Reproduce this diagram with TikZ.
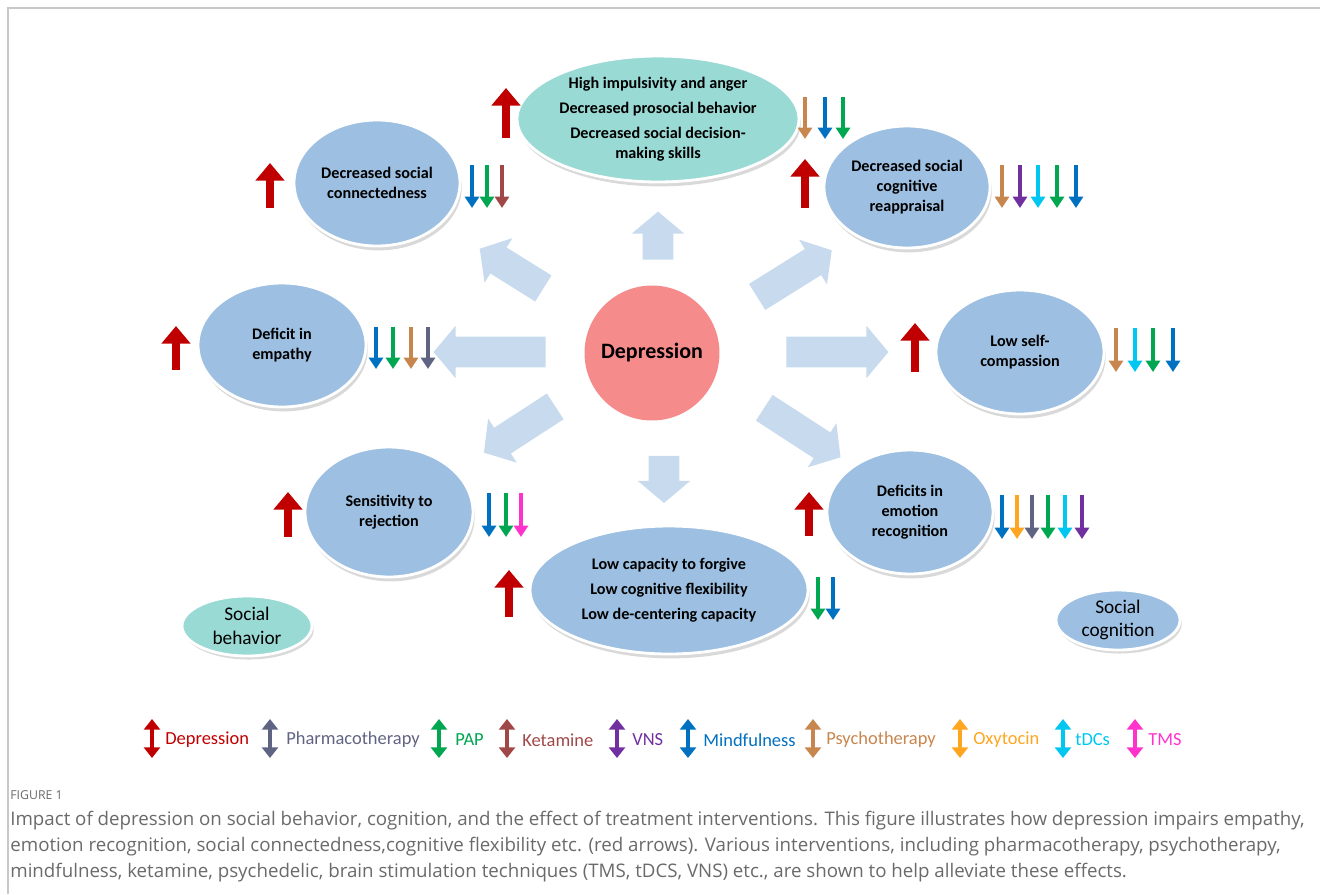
\documentclass[tikz,border=0pt]{standalone}
\usepackage{fontspec}
\setmainfont{Carlito}
\newfontfamily\capfont{Open Sans}
\usepackage{tikz}
\usetikzlibrary{positioning,arrows.meta,shapes.geometric,shapes.arrows,shadows}

\definecolor{deprd}{HTML}{C00000}
\definecolor{pharm}{HTML}{5F6483}
\definecolor{papg}{HTML}{00A650}
\definecolor{ketam}{HTML}{A04848}
\definecolor{vnsp}{HTML}{7030A0}
\definecolor{mindb}{HTML}{0070C0}
\definecolor{psych}{HTML}{C8864F}
\definecolor{oxyt}{HTML}{FFA520}
\definecolor{tdcs}{HTML}{00C6F2}
\definecolor{tmsm}{HTML}{FF33CC}
\definecolor{cogblue}{HTML}{9DBFE1}
\definecolor{behteal}{HTML}{9ADAD5}
\definecolor{depfill}{HTML}{F58B8B}
\definecolor{blkblue}{HTML}{C8DBEE}
\definecolor{capgrey}{HTML}{6A6A6A}
\definecolor{framec}{HTML}{C8C8C8}

\begin{document}
\begin{tikzpicture}[x=0.02cm, y=-0.02cm,
  cogv/.style={ellipse, draw=white, line width=1.6pt, fill=cogblue, inner sep=0pt, align=center,
    font=\fontsize{9.2}{11.3}\selectfont\bfseries,
    drop shadow={shadow xshift=1pt, shadow yshift=-2.5pt, opacity=0.3}},
  behv/.style={cogv, fill=behteal},
  tagv/.style={ellipse, draw=white, line width=1.6pt, inner sep=0pt, align=center,
    font=\fontsize{11}{13.5}\selectfont,
    drop shadow={shadow xshift=1pt, shadow yshift=-2pt, opacity=0.3}},
  depv/.style={circle, fill=depfill, inner sep=0pt, minimum size=2.7cm, font=\fontsize{12.5}{14}\selectfont\bfseries},
  blk/.style={single arrow, fill=blkblue, draw=none, inner xsep=0pt, inner ysep=0.3cm,
    single arrow head extend=0.22cm, single arrow tip angle=100},
  upred/.style={draw=deprd, line width=4pt, -{Triangle[width=16pt,length=10pt]}},
  dn/.style={draw=#1, line width=1.8pt, -{Triangle[width=8pt,length=6.5pt]}},
  legarr/.style={draw=#1, line width=2.2pt, {Triangle[width=9pt,length=6pt]}-{Triangle[width=9pt,length=6pt]}},
  legtxt/.style={anchor=west, inner sep=0pt, text=#1, font=\fontsize{10.5}{12}\selectfont},
  captxt/.style={anchor=base west, inner sep=0pt, text=capgrey, font=\capfont\fontsize{10.65}{12}\selectfont}
]
\useasboundingbox (0,0) rectangle (1320,894);
\draw[framec, line width=0.6pt] (8,894) -- (8,8) -- (1320,8);

\node[depv] (dep) at (652,353) {Depression};

\node[blk, minimum height=0.96cm, rotate=90] (bup) at (658,242) {};
\node[blk, minimum height=0.94cm, rotate=270] (bdown) at (664,473) {};
\node[blk, minimum height=2.24cm, rotate=180] (bleft) at (496,352) {};
\node[blk, minimum height=2.04cm, rotate=0] (bright) at (831,352) {};
\node[blk, minimum height=1.5cm, rotate=148] (bul) at (517,272) {};
\node[blk, minimum height=1.76cm, rotate=32] (bur) at (789,277) {};
\node[blk, minimum height=1.7cm, rotate=213] (bll) at (525,426) {};
\node[blk, minimum height=1.82cm, rotate=-33] (blr) at (797,429) {};

\node[behv, minimum width=5.64cm, minimum height=2.52cm] (impuls) at (658,119)
  {High impulsivity and anger\\[3pt] Decreased prosocial behavior\\[3pt] Decreased social decision-\\making skills};
\node[cogv, minimum width=3.32cm, minimum height=2.52cm] (connect) at (377,183) {Decreased social\\connectedness};
\node[cogv, minimum width=3.32cm, minimum height=2.44cm] (reappr) at (907,187) {Decreased social\\cognitive\\reappraisal};
\node[cogv, minimum width=3.36cm, minimum height=2.48cm] (empathy) at (282,345) {Deficit in\\empathy};
\node[cogv, minimum width=3.36cm, minimum height=2.48cm] (selfcomp) at (1020,352) {Low self-\\compassion};
\node[cogv, minimum width=3.36cm, minimum height=2.6cm] (reject) at (389,512) {Sensitivity to\\rejection};
\node[cogv, minimum width=3.32cm, minimum height=2.48cm] (emotion) at (910,512) {Deficits in\\emotion\\recognition};
\node[cogv, minimum width=5.56cm, minimum height=2.56cm] (forgive) at (669,590)
  {Low capacity to forgive\\[3pt] Low cognitive flexibility\\[3pt] Low de-centering capacity};

\node[tagv, fill=behteal, minimum width=2.6cm, minimum height=1.2cm] (socbeh) at (247,626) {Social\\behavior};
\node[tagv, fill=cogblue, minimum width=2.48cm, minimum height=1.2cm] (soccog) at (1118,620) {Social\\cognition};

\draw[upred] (506,138) -- (506,88);
\draw[upred] (270,208) -- (270,163);
\draw[upred] (805,208) -- (805,159);
\draw[upred] (176,370) -- (176,326);
\draw[upred] (915,372) -- (915,323);
\draw[upred] (288,537) -- (288,492);
\draw[upred] (809,536) -- (809,492);
\draw[upred] (509,617) -- (509,570);

\draw[dn=psych] (805,97) -- (805,139);
\draw[dn=mindb] (825,97) -- (825,139);
\draw[dn=papg] (843,97) -- (843,139);

\draw[dn=mindb] (472,165) -- (472,208);
\draw[dn=papg] (487,165) -- (487,208);
\draw[dn=ketam] (502,165) -- (502,208);

\draw[dn=psych] (1002,165) -- (1002,208);
\draw[dn=vnsp] (1020,165) -- (1020,208);
\draw[dn=tdcs] (1038,165) -- (1038,208);
\draw[dn=papg] (1057,165) -- (1057,208);
\draw[dn=mindb] (1076,165) -- (1076,208);

\draw[dn=mindb] (376,327) -- (376,369);
\draw[dn=papg] (393,327) -- (393,369);
\draw[dn=psych] (411,327) -- (411,369);
\draw[dn=pharm] (428,327) -- (428,369);

\draw[dn=psych] (1116,328) -- (1116,372);
\draw[dn=tdcs] (1135,328) -- (1135,372);
\draw[dn=papg] (1153,328) -- (1153,372);
\draw[dn=mindb] (1173,328) -- (1173,372);

\draw[dn=mindb] (489,493) -- (489,537);
\draw[dn=papg] (506,493) -- (506,537);
\draw[dn=tmsm] (521,493) -- (521,537);

\draw[dn=mindb] (1002,495) -- (1002,539);
\draw[dn=oxyt] (1017,495) -- (1017,539);
\draw[dn=pharm] (1032,495) -- (1032,539);
\draw[dn=papg] (1048,495) -- (1048,539);
\draw[dn=tdcs] (1065,495) -- (1065,539);
\draw[dn=vnsp] (1082,495) -- (1082,539);

\draw[dn=papg] (818,577) -- (818,620);
\draw[dn=mindb] (833,577) -- (833,620);

\draw[legarr=deprd] (152,719) -- (152,758);
\node[legtxt=deprd] (lgdep) at (165,740) {Depression};
\draw[legarr=pharm] (270,719) -- (270,758);
\node[legtxt=pharm] (lgpharm) at (286,740) {Pharmacotherapy};
\draw[legarr=papg] (439,719) -- (439,758);
\node[legtxt=papg] (lgpap) at (455,740) {PAP};
\draw[legarr=ketam] (507,719) -- (507,758);
\node[legtxt=ketam] (lgket) at (522,740) {Ketamine};
\draw[legarr=vnsp] (617,719) -- (617,758);
\node[legtxt=vnsp] (lgvns) at (632,740) {VNS};
\draw[legarr=mindb] (688,719) -- (688,758);
\node[legtxt=mindb] (lgmind) at (703,740) {Mindfulness};
\draw[legarr=psych] (813,719) -- (813,758);
\node[legtxt=psych] (lgpsy) at (826,740) {Psychotherapy};
\draw[legarr=oxyt] (960,719) -- (960,758);
\node[legtxt=oxyt] (lgoxy) at (973,740) {Oxytocin};
\draw[legarr=tdcs] (1063,719) -- (1063,758);
\node[legtxt=tdcs] (lgtdcs) at (1075,740) {tDCs};
\draw[legarr=tmsm] (1135,719) -- (1135,758);
\node[legtxt=tmsm] (lgtms) at (1148,740) {TMS};

\node[captxt, font=\capfont\fontsize{7}{8}\selectfont] (fignum) at (10,799) {FIGURE 1};
\node[captxt] (cap1) at (10,825) {Impact of depression on social behavior, cognition, and the effect of treatment interventions. This figure illustrates how depression impairs empathy,};
\node[captxt] (cap2) at (10,851) {emotion recognition, social connectedness,cognitive flexibility etc. (red arrows). Various interventions, including pharmacotherapy, psychotherapy,};
\node[captxt] (cap3) at (10,877) {mindfulness, ketamine, psychedelic, brain stimulation techniques (TMS, tDCS, VNS) etc., are shown to help alleviate these effects.};

\end{tikzpicture}
\end{document}
